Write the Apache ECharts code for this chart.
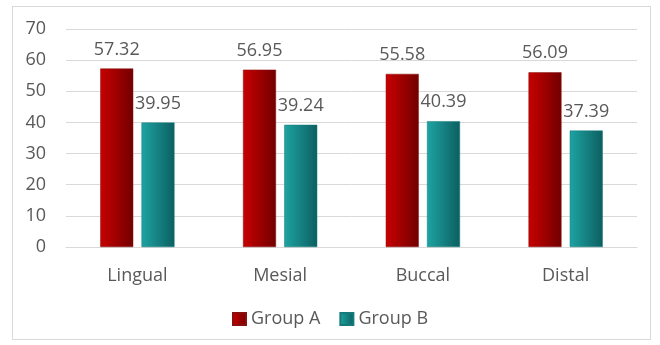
<!DOCTYPE html>
<html>
<head>
<meta charset="utf-8">
<script src="https://cdn.jsdelivr.net/npm/echarts@6/dist/echarts.min.js"></script>
<style>
  html, body { margin: 0; padding: 0; background: #fff; }
  #frame { position: absolute; left: 12px; top: 6px; width: 639px; height: 334px; border: 1px solid #d9d9d9; box-sizing: border-box; }
  #chart { width: 660px; height: 345px; position: absolute; left: 0; top: 0; }
</style>
</head>
<body>
<div id="frame"></div>
<div id="chart"></div>
<script>
const categories = ['Lingual', 'Mesial', 'Buccal', 'Distal'];
const groupA = [57.32, 56.95, 55.58, 56.09];
const groupB = [39.95, 39.24, 40.39, 37.39];
const yTicks = { min: 0, max: 70, interval: 10 };

const textColor = '#595959';
const fontFamily = '"Open Sans", "Noto Sans", sans-serif';

function grad(c1, c2) {
  return new echarts.graphic.LinearGradient(0, 0, 1, 0, [
    { offset: 0, color: c1 },
    { offset: 1, color: c2 }
  ]);
}

const chart = echarts.init(document.getElementById('chart'), null, { renderer: 'canvas' });
chart.setOption({
  animation: false,
  textStyle: { fontFamily: fontFamily, color: textColor },
  grid: { left: 66, right: 23, top: 29, bottom: 98, containLabel: false },
  legend: {
    top: 305,
    left: 'center',
    itemWidth: 13,
    itemHeight: 12,
    itemGap: 19,
    icon: 'rect',
    textStyle: { fontSize: 18, color: textColor, fontFamily: fontFamily },
    data: ['Group A', 'Group B']
  },
  xAxis: {
    type: 'category',
    data: categories,
    axisLine: { show: true, lineStyle: { color: '#d9d9d9', width: 1 } },
    axisTick: { show: false },
    axisLabel: { fontSize: 18, color: textColor, margin: 20, fontFamily: fontFamily }
  },
  yAxis: {
    type: 'value',
    min: yTicks.min,
    max: yTicks.max,
    interval: yTicks.interval,
    axisLine: { show: false },
    axisTick: { show: false },
    splitLine: { lineStyle: { color: '#d9d9d9', width: 1 } },
    axisLabel: { fontSize: 18, color: textColor, margin: 20, fontFamily: fontFamily }
  },
  series: [
    {
      name: 'Group A',
      type: 'bar',
      data: groupA,
      barWidth: 33,
      barGap: '25%',
      itemStyle: { color: grad('#c80000', '#720000'), borderColor: '#8a1010', borderWidth: 0.5 },
      label: { show: true, position: 'top', distance: 10, fontSize: 18, color: textColor, fontFamily: fontFamily, formatter: p => p.value.toFixed(2) }
    },
    {
      name: 'Group B',
      type: 'bar',
      data: groupB,
      barWidth: 33,
      itemStyle: { color: grad('#1ea3a3', '#0c5f60'), borderColor: '#157a7a', borderWidth: 0.5 },
      label: { show: true, position: 'top', distance: 10, fontSize: 18, color: textColor, fontFamily: fontFamily, formatter: p => p.value.toFixed(2) }
    }
  ]
});
</script>
</body>
</html>
